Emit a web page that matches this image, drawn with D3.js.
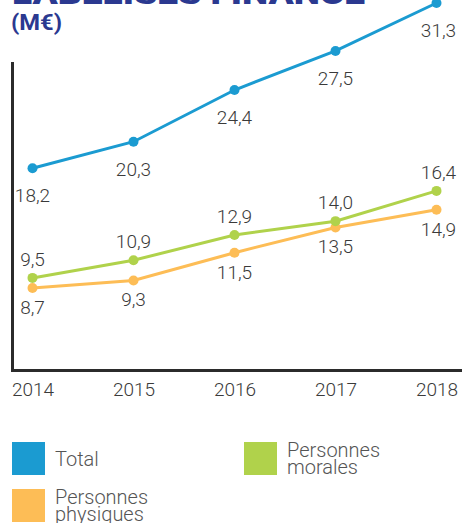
<!DOCTYPE html>
<html><head><meta charset="utf-8">
<script src="https://cdn.jsdelivr.net/npm/d3@7/dist/d3.min.js"></script>
<style>
html,body{margin:0;padding:0;background:#fff;}
svg{display:block;}
</style></head>
<body>
<script>
const years = ["2014","2015","2016","2017","2018"];
const total = [18.2, 20.3, 24.4, 27.5, 31.3];
const morales = [9.5, 10.9, 12.9, 14.0, 16.4];
const physiques = [8.7, 9.3, 11.5, 13.5, 14.9];
const seriesNames = ["Total", "Personnes morales", "Personnes physiques"];
const titleText = "LABELISÉS FINANCÉ";
const unitText = "(M€)";

const W = 462, H = 523;
const svg = d3.select("body").append("svg").attr("width", W).attr("height", H);

const x = d3.scalePoint().domain(years).range([32.5, 436.5]);
const y = d3.scaleLinear().domain([0, 31.3]).range([397.7, 3]);

const fontNum = "Roboto, 'DejaVu Sans', sans-serif";

// Title (cut off at top)
svg.append("text").attr("x", 12).attr("y", 4)
  .attr("font-family", fontNum).attr("font-weight", 900).attr("font-size", 30)
  .attr("fill", "#2b3990").attr("textLength", 353).attr("lengthAdjust", "spacingAndGlyphs")
  .text(titleText);
svg.append("text").attr("x", 11).attr("y", 30)
  .attr("font-family", fontNum).attr("font-weight", 700).attr("font-size", 22)
  .attr("fill", "#2b3990").attr("textLength", 51).attr("lengthAdjust", "spacingAndGlyphs")
  .text(unitText);

// Axes frame
svg.append("path").attr("d", "M12.5,62V370.5H462")
  .attr("fill", "none").attr("stroke", "#2b2b2b").attr("stroke-width", 3);

const xAxis = svg.append("g").attr("transform", "translate(0,370)")
  .call(d3.axisBottom(x).tickSize(0));
xAxis.select(".domain").remove();
xAxis.selectAll("text").attr("y", 26).attr("dy", 0)
  .attr("font-family", fontNum).attr("font-weight", 300).attr("font-size", 19)
  .attr("fill", "#3a3a3a");

const series = [
  {name: seriesNames[0], values: total, color: "#1b9bd1", dyLabel: 34},
  {name: seriesNames[1], values: morales, color: "#b0d24b", dyLabel: -12},
  {name: seriesNames[2], values: physiques, color: "#fdbd56", dyLabel: 26}
];

const line = d3.line().x((d, i) => x(years[i])).y(d => y(d));

[series[2], series[1], series[0]].forEach(s => {
  const g = svg.append("g");
  g.append("path").attr("d", line(s.values)).attr("fill", "none")
    .attr("stroke", s.color).attr("stroke-width", 3);
  g.selectAll("circle").data(s.values).join("circle")
    .attr("cx", (d, i) => x(years[i])).attr("cy", d => y(d)).attr("r", 5)
    .attr("fill", s.color);
  g.selectAll("text").data(s.values).join("text")
    .attr("x", (d, i) => x(years[i]) + (i === 4 ? 2 : 0))
    .attr("y", d => y(d) + s.dyLabel)
    .attr("text-anchor", "middle")
    .attr("font-family", fontNum).attr("font-weight", 300).attr("font-size", 19)
    .attr("fill", "#3a3a3a")
    .text(d => d3.format(".1f")(d).replace(".", ","));
});

// Legend
const legend = [
  {s: series[0], x: 12, y: 442, lines: ["Total"], ty: [466]},
  {s: series[1], x: 244, y: 442, lines: ["Personnes", "morales"], ty: [457, 474]},
  {s: series[2], x: 12, y: 489, lines: ["Personnes", "physiques"], ty: [504, 521]}
];
legend.forEach(l => {
  svg.append("rect").attr("x", l.x).attr("y", l.y).attr("width", 33).attr("height", 33)
    .attr("fill", l.s.color);
  l.lines.forEach((t, k) => {
    svg.append("text").attr("x", l.x + 43).attr("y", l.ty[k])
      .attr("font-family", fontNum).attr("font-weight", 300).attr("font-size", 20)
      .attr("fill", "#555").text(t);
  });
});
</script>
</body></html>
